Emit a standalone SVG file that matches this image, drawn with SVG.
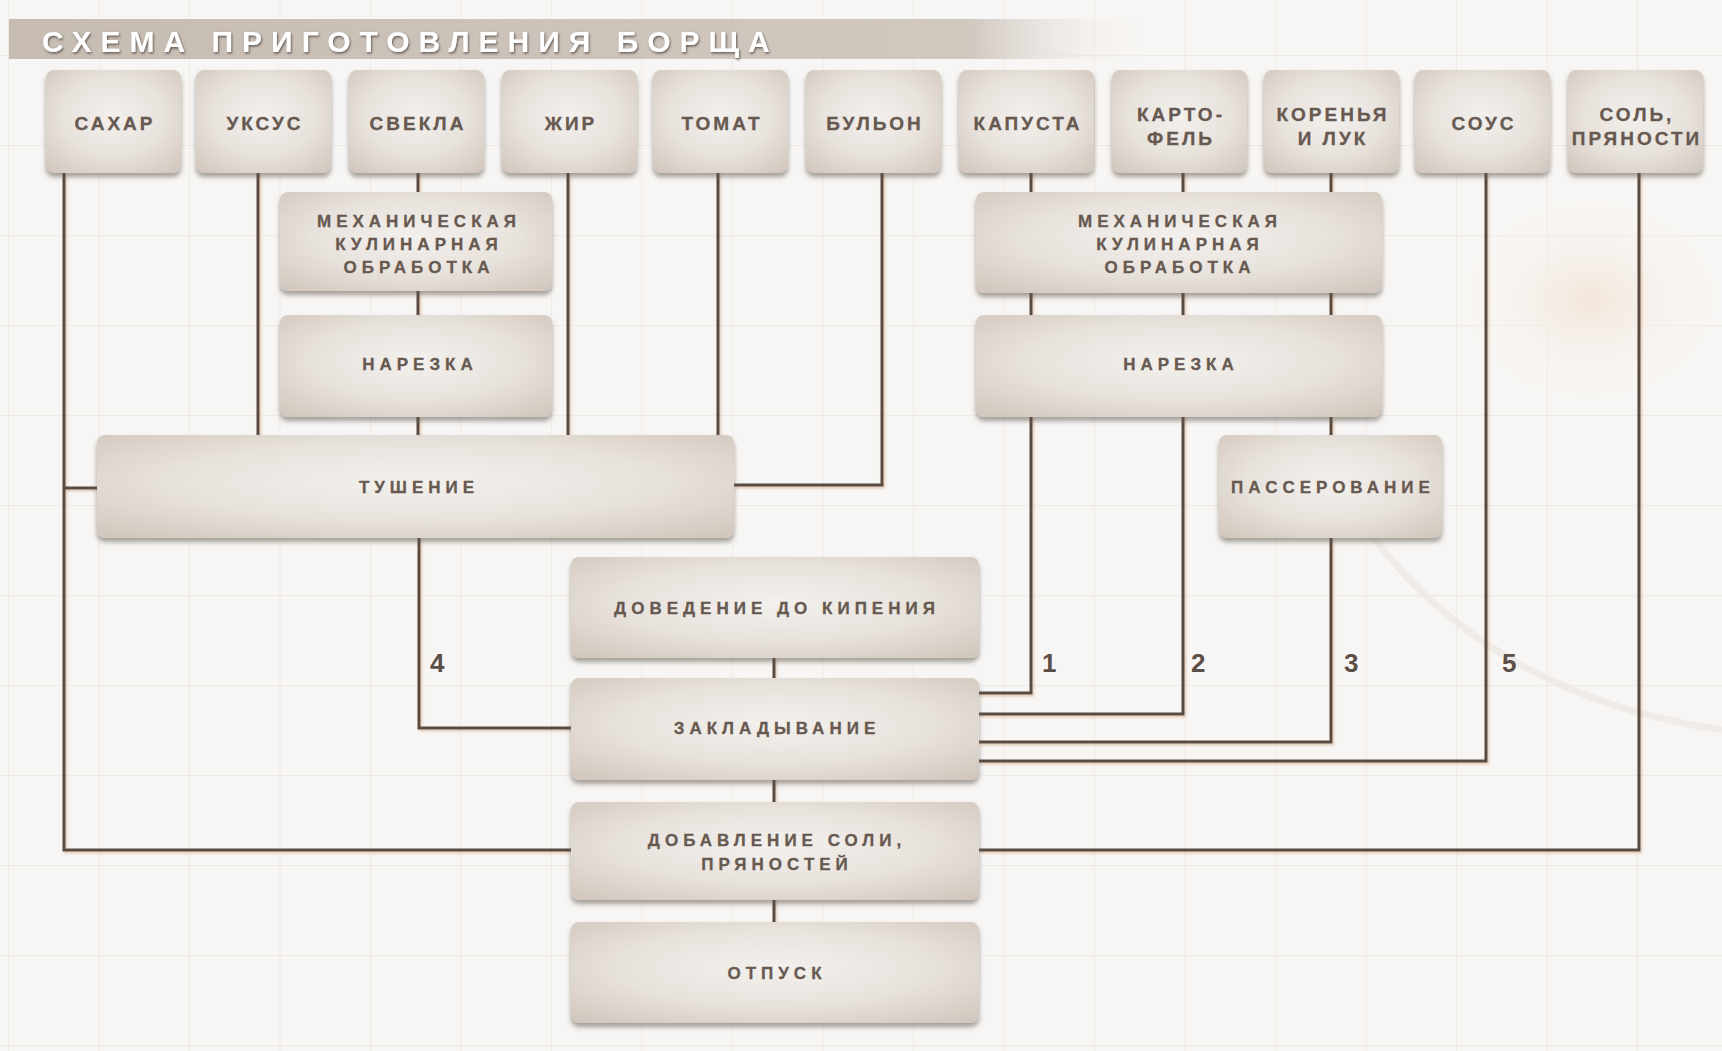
<svg xmlns="http://www.w3.org/2000/svg" width="1722" height="1051" viewBox="0 0 1722 1051">
  <defs>
    <pattern id="grid" x="8" y="55" width="90.5" height="90" patternUnits="userSpaceOnUse">
      <path d="M0 0 V90 M0 0 H90.5" stroke="#ebe7e3" stroke-width="1.5" fill="none"/>
    </pattern>
    <linearGradient id="titleGrad" x1="0" y1="0" x2="1" y2="0">
      <stop offset="0" stop-color="#c6bcb2"/>
      <stop offset="0.84" stop-color="#d1c8c0"/>
      <stop offset="1" stop-color="#f8f6f4" stop-opacity="0"/>
    </linearGradient>
    <radialGradient id="boxGrad" cx="50%" cy="45%" r="70%">
      <stop offset="0" stop-color="#f3f0ed"/>
      <stop offset="0.55" stop-color="#e8e2dc"/>
      <stop offset="1" stop-color="#d2c8bf"/>
    </radialGradient>
    <radialGradient id="glow" cx="50%" cy="50%" r="50%">
      <stop offset="0" stop-color="#f1e2d4" stop-opacity="0.8"/>
      <stop offset="1" stop-color="#f8f6f4" stop-opacity="0"/>
    </radialGradient>
    <filter id="boxShadow" x="-10%" y="-10%" width="120%" height="130%">
      <feDropShadow dx="0" dy="4" stdDeviation="2.5" flood-color="#5e544c" flood-opacity="0.55"/>
    </filter>
    <filter id="lineShadow" x="-5%" y="-5%" width="110%" height="110%">
      <feDropShadow dx="1.5" dy="2" stdDeviation="1" flood-color="#c8926a" flood-opacity="0.45"/>
    </filter>
    <filter id="titleShadow" x="-5%" y="-30%" width="110%" height="160%">
      <feDropShadow dx="1" dy="1.5" stdDeviation="1" flood-color="#4e433b" flood-opacity="0.8"/>
    </filter>
    <style>
      .box { fill: url(#boxGrad); filter: url(#boxShadow); }
      .lbl { font-family: "Liberation Sans", Arial, sans-serif; font-weight: bold; font-size: 17px; letter-spacing: 5px; fill: #675950; stroke: #675950; stroke-width: 0.3; text-anchor: middle; }
      .top { font-size: 19px; letter-spacing: 3px; }
      .num { font-family: "Liberation Sans", Arial, sans-serif; font-weight: bold; font-size: 26px; fill: #5b4f47; }
      .conn { stroke: #594b42; stroke-width: 3; fill: none; stroke-linejoin: miter; }
      .title { font-family: "Liberation Sans", Arial, sans-serif; font-weight: bold; font-size: 30px; letter-spacing: 9px; fill: #ffffff; filter: url(#titleShadow); }
    </style>
  </defs>

  <!-- background -->
  <rect width="1722" height="1051" fill="#f8f6f4"/>
  <rect width="1722" height="1051" fill="url(#grid)"/>
  <ellipse cx="1590" cy="300" rx="140" ry="110" fill="url(#glow)"/>
  <path d="M1330 470 Q1450 690 1722 730" stroke="#e9e4df" stroke-width="7" fill="none" opacity="0.6"/>

  <!-- title -->
  <g id="title">
    <rect x="9" y="19" width="1145" height="40" fill="url(#titleGrad)"/>
    <text class="title" x="42" y="52">СХЕМА ПРИГОТОВЛЕНИЯ БОРЩА</text>
  </g>

  <!-- connectors -->
  <g id="connectors" filter="url(#lineShadow)">
    <path class="conn" d="M64 172 V850 H572"/>
    <path class="conn" d="M64 488 H98"/>
    <path class="conn" d="M258 172 V436"/>
    <path class="conn" d="M568 172 V436"/>
    <path class="conn" d="M718 172 V436"/>
    <path class="conn" d="M418 172 V193"/>
    <path class="conn" d="M418 290 V316"/>
    <path class="conn" d="M418 416 V436"/>
    <path class="conn" d="M882 172 V485 H733"/>
    <path class="conn" d="M419 537 V728 H572"/>
    <path class="conn" d="M1031 172 V193"/>
    <path class="conn" d="M1031 292 V316"/>
    <path class="conn" d="M1031 416 V693 H978"/>
    <path class="conn" d="M1183 172 V193"/>
    <path class="conn" d="M1183 292 V316"/>
    <path class="conn" d="M1183 416 V714 H978"/>
    <path class="conn" d="M1331 172 V193"/>
    <path class="conn" d="M1331 292 V316"/>
    <path class="conn" d="M1331 416 V436"/>
    <path class="conn" d="M1331 537 V742 H978"/>
    <path class="conn" d="M1486 172 V761 H978"/>
    <path class="conn" d="M1639 172 V850 H978"/>
    <path class="conn" d="M774 658 V679"/>
    <path class="conn" d="M774 779 V803"/>
    <path class="conn" d="M774 899 V923"/>
  </g>

  <!-- numbers -->
  <g id="numbers">
    <text class="num" x="430" y="672">4</text>
    <text class="num" x="1042" y="672">1</text>
    <text class="num" x="1191" y="672">2</text>
    <text class="num" x="1344" y="672">3</text>
    <text class="num" x="1502" y="672">5</text>
  </g>

  <!-- top row -->
  <g id="n-sahar"><rect class="box" x="46" y="70" width="135" height="103" rx="8"/><text class="lbl top" x="115" y="130">САХАР</text></g>
  <g id="n-uksus"><rect class="box" x="196" y="70" width="135" height="103" rx="8"/><text class="lbl top" x="265" y="130">УКСУС</text></g>
  <g id="n-svekla"><rect class="box" x="349" y="70" width="135" height="103" rx="8"/><text class="lbl top" x="418" y="130">СВЕКЛА</text></g>
  <g id="n-zhir"><rect class="box" x="502" y="70" width="135" height="103" rx="8"/><text class="lbl top" x="571" y="130">ЖИР</text></g>
  <g id="n-tomat"><rect class="box" x="653" y="70" width="135" height="103" rx="8"/><text class="lbl top" x="722" y="130">ТОМАТ</text></g>
  <g id="n-bulon"><rect class="box" x="806" y="70" width="135" height="103" rx="8"/><text class="lbl top" x="875" y="130">БУЛЬОН</text></g>
  <g id="n-kapusta"><rect class="box" x="959" y="70" width="135" height="103" rx="8"/><text class="lbl top" x="1028" y="130">КАПУСТА</text></g>
  <g id="n-kartofel"><rect class="box" x="1112" y="70" width="135" height="103" rx="8"/><text class="lbl top" x="1181" y="121">КАРТО-</text><text class="lbl top" x="1181" y="145">ФЕЛЬ</text></g>
  <g id="n-korenya"><rect class="box" x="1264" y="70" width="135" height="103" rx="8"/><text class="lbl top" x="1333" y="121">КОРЕНЬЯ</text><text class="lbl top" x="1333" y="145">И ЛУК</text></g>
  <g id="n-sous"><rect class="box" x="1415" y="70" width="135" height="103" rx="8"/><text class="lbl top" x="1484" y="130">СОУС</text></g>
  <g id="n-sol"><rect class="box" x="1568" y="70" width="135" height="103" rx="8"/><text class="lbl top" x="1637" y="121">СОЛЬ,</text><text class="lbl top" x="1637" y="145">ПРЯНОСТИ</text></g>

  <!-- left processing -->
  <g id="n-meh1"><rect class="box" x="280" y="192" width="272" height="99" rx="8"/><text class="lbl" x="419" y="227">МЕХАНИЧЕСКАЯ</text><text class="lbl" x="419" y="250">КУЛИНАРНАЯ</text><text class="lbl" x="419" y="273">ОБРАБОТКА</text></g>
  <g id="n-narezka1"><rect class="box" x="280" y="315" width="272" height="102" rx="8"/><text class="lbl" x="420" y="370">НАРЕЗКА</text></g>
  <g id="n-tushenie"><rect class="box" x="97" y="435" width="637" height="103" rx="8"/><text class="lbl" x="419" y="493">ТУШЕНИЕ</text></g>

  <!-- right processing -->
  <g id="n-meh2"><rect class="box" x="976" y="192" width="406" height="101" rx="8"/><text class="lbl" x="1180" y="227">МЕХАНИЧЕСКАЯ</text><text class="lbl" x="1180" y="250">КУЛИНАРНАЯ</text><text class="lbl" x="1180" y="273">ОБРАБОТКА</text></g>
  <g id="n-narezka2"><rect class="box" x="976" y="315" width="406" height="102" rx="8"/><text class="lbl" x="1181" y="370">НАРЕЗКА</text></g>
  <g id="n-passerovanie"><rect class="box" x="1219" y="435" width="223" height="103" rx="8"/><text class="lbl" x="1333" y="493">ПАССЕРОВАНИЕ</text></g>

  <!-- main column -->
  <g id="n-dovedenie"><rect class="box" x="571" y="557" width="408" height="101" rx="8"/><text class="lbl" x="777" y="614">ДОВЕДЕНИЕ ДО КИПЕНИЯ</text></g>
  <g id="n-zakladyvanie"><rect class="box" x="571" y="678" width="408" height="102" rx="8"/><text class="lbl" x="777" y="734">ЗАКЛАДЫВАНИЕ</text></g>
  <g id="n-dobavlenie"><rect class="box" x="571" y="802" width="408" height="98" rx="8"/><text class="lbl" x="777" y="846">ДОБАВЛЕНИЕ СОЛИ,</text><text class="lbl" x="777" y="870">ПРЯНОСТЕЙ</text></g>
  <g id="n-otpusk"><rect class="box" x="571" y="922" width="408" height="101" rx="8"/><text class="lbl" x="777" y="979">ОТПУСК</text></g>
</svg>
